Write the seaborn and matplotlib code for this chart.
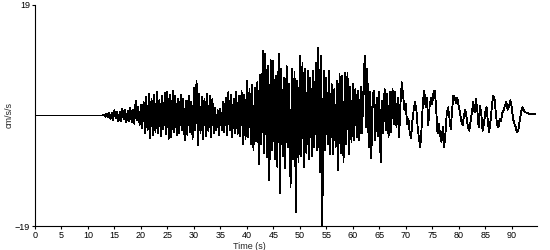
import numpy as np
import pandas as pd
import matplotlib
matplotlib.use("Agg")
import matplotlib.pyplot as plt
import seaborn as sns

# ---- data ----
quiet_time = [0.2, 12.75]
quiet_acc = [0.0, 0.0]

t_start = 13.0
dt = 0.25
acc = [
    0.1, -0.2, 0.3, -0.3,   0.5, -0.6, 0.4, -0.8,   0.9, -0.5, 0.7, -1.0,   0.6, -0.9, 1.1, -0.7,   # 13-17
    1.0, -1.2, 0.8, -0.9,   1.3, -1.1, 0.9, -1.4,   2.5, -0.8, 1.5, -1.6,   1.8, -2.2, 2.4, -3.0,   # 17-21
    3.2, -2.6, 3.8, -3.9,   2.9, -3.4, 3.6, -2.8,   4.0, -3.1, 2.7, -3.6,   3.3, -2.4, 3.9, -3.2,   # 21-25
    4.1, -4.0, 3.5, -3.7,   4.3, -2.9, 3.4, -3.4,   2.8, -3.1, 3.6, -2.5,   2.9, -4.3, 2.6, -3.3,   # 25-29
    3.4, -2.8, 2.4, -4.0,   4.8, -2.6, 6.0, -5.1,   3.7, -3.0, 3.2, -4.0,   2.9, -3.5, 3.7, -2.7,   # 29-33
    3.3, -3.7, 2.8, -3.1,   1.3, -2.6, 0.9, -3.4,   1.1, -2.5, 2.3, -2.9,   3.1, -3.3, 4.0, -2.6,   # 33-37
    3.5, -3.7, 2.9, -3.0,   4.0, -3.2, 3.4, -3.6,   4.2, -4.9, 3.5, -4.1,   6.0, -3.8, 4.5, -5.0,   # 37-41
    5.2, -6.0, 4.8, -4.4,   5.8, -8.3, 7.0, -5.0,   11.1, -6.5, 10.6, -7.2, 8.5, -11.1, 9.5, -6.0,  # 41-45
    9.4, -7.5, 6.8, -8.8,   10.6, -13.4, 8.0, -7.0, 6.5, -9.0, 8.5, -5.5,   5.5, -12.3, 8.0, -7.5,  # 45-49
    7.5, -16.6, 6.0, -8.0,  10.3, -7.0, 9.0, -8.9,  8.0, -6.5, 7.7, -7.5,   6.5, -7.0, 7.7, -5.5,   # 49-53
    9.0, -6.0, 11.7, -9.7,  10.3, -19.0, 7.7, -6.0, 6.5, -5.0, 7.7, -6.6,   5.4, -6.6, 4.5, -5.5,   # 53-57
    6.0, -9.4, 7.1, -6.5,   6.8, -8.0, 7.4, -5.0,   7.4, -6.6, 5.0, -4.5,   5.4, -4.3, 4.6, -3.8,   # 57-61
    4.2, -4.3, 5.0, -3.0,   4.0, 10.3, -2.0, 8.0,   -5.5, 4.0, -7.4, 3.5,   4.3, -4.3, 3.0, -3.5,   # 61-65
    4.0, -8.0, 2.5, -3.0,   4.6, -2.5, 3.8, -3.7,   4.0, -2.8, 4.6, -1.5,   4.0, -2.0, 3.0, -3.7,   # 65-69
    2.0, 5.7, 3.5, 1.0,     2.0, -1.5, -0.5, -3.0,  -3.9, -1.0, 1.0, 2.3,   1.0, -2.0, -4.0, -5.4,  # 69-73
    -2.0, 2.5, 4.3, 1.5,    3.0, -1.7, 1.5, 3.0,    2.0, 4.0, 4.3, 1.0,     -3.1, -1.5, -3.5, -4.5, # 73-77
    -2.0, -5.4, -3.0, 0.5,  1.4, -0.5, -2.3, 1.0,   3.4, 3.0, 2.2, 3.0,     1.5, 0.5, -1.0, -1.7,   # 77-81
    0.0, 1.0, -0.5, -2.0,   -2.6, -1.0, 0.5, 2.3,   0.5, 2.9, 1.0, -2.0,    1.7, 0.5, -2.6, -1.5,   # 81-85
    0.5, 1.4, -1.0, -2.9,   -1.0, 1.5, 3.4, 3.0,    0.5, -1.7, -2.0, -0.5,  -0.9, 0.5, 1.0, 1.8,    # 85-89
    2.3, 1.0, 1.5, 2.6,     1.5, -0.5, -1.4, -2.0,  -2.9, -2.5, -1.0, 0.5,  1.4, 1.0, 0.6, 0.5,     # 89-93
    0.4, 0.3, 0.3, 0.2,     0.2, 0.2, 0.2,                                                          # 93-94.5
]

x_ticks = list(range(0, 95, 5))
y_ticks = [-19, 19]
x_label = "Time (s)"
y_label = "cm/s/s"

# ---- build table ----
main_time = t_start + dt * np.arange(len(acc))
df = pd.DataFrame({
    "time": np.concatenate([quiet_time, main_time]),
    "acc": np.concatenate([quiet_acc, acc]),
})

sns.set_style("ticks")
plt.rcParams["font.family"] = ["Liberation Sans", "DejaVu Sans"]

fig = plt.figure(figsize=(5.5, 2.5), dpi=100)
ax = fig.add_axes([0.0636, 0.096, 0.912, 0.884])

sns.lineplot(data=df, x="time", y="acc", color="black", linewidth=0.6,
             estimator=None, sort=False, ax=ax, antialiased=False)

ax.set_xlim(0, 94.7)
ax.set_ylim(-19, 19)
ax.set_xticks(x_ticks)
ax.set_yticks(y_ticks)
ax.tick_params(axis="both", labelsize=6.5, length=2.5, width=0.8, color="black",
               labelcolor="black", pad=1)
for side in ("top", "right"):
    ax.spines[side].set_visible(False)
for side in ("left", "bottom"):
    ax.spines[side].set_color("black")
    ax.spines[side].set_linewidth(0.8)

ax.set_xlabel(x_label, fontsize=6.5)
ax.set_ylabel(y_label, fontsize=6.5)
ax.xaxis.set_label_coords(0.428, -0.072)
ax.yaxis.set_label_coords(-0.042, 0.5)

fig.savefig("out.png", dpi=100, facecolor="white")
